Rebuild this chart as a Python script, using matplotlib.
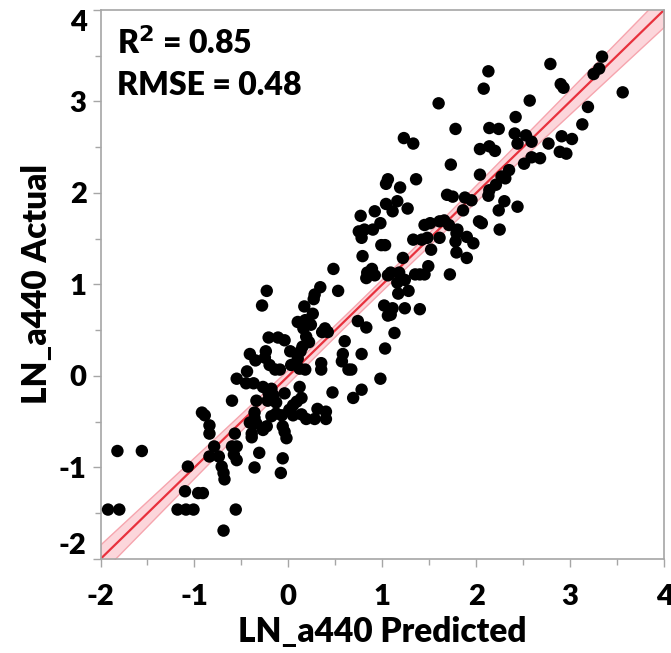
import numpy as np
import matplotlib
matplotlib.use('Agg')
import matplotlib.pyplot as plt
from matplotlib.ticker import MultipleLocator

plt.rcParams['font.family'] = ['Lato', 'DejaVu Sans']
plt.rcParams['font.weight'] = 'heavy'
plt.rcParams['axes.unicode_minus'] = False

# predicted / actual values
predicted = [
    1.60, 1.78, 1.23, 1.33, 1.73, 1.06, 1.04, 1.19, 1.36, 1.69, 1.75, 1.88, 1.16,
    2.79, 2.13, 3.34, 3.31, 3.25, 2.08, 2.90, 2.93, 3.56, 2.57, 3.19, 2.42, 2.14,
    2.24, 3.13, 2.41, 2.53, 2.91, 3.02, 2.44, 2.59, 2.77, 2.04, 2.14, 2.20, 2.89,
    2.96, 2.59, 2.68, 2.51, 2.35, 2.04, 2.27, 2.31, 2.21, 2.14, 2.13, 2.30, 1.95,
    2.24, 2.44, 2.03, 2.06, 2.25,
    1.04, 0.92, 1.11, 1.27, 0.77, 0.98, 0.75, 0.81, 0.78, 0.90, 0.99, 1.03, 0.79,
    0.48, 0.84, 0.89, 0.92, 0.83, 1.06, 1.09, 1.18, 1.22, 1.33, 1.42, 1.48, 1.45,
    1.51, 1.61, 1.66, 1.71, 1.61, 1.52, 1.80, 1.79, 1.78, 1.90, 1.97, 1.79, 1.90,
    1.49, 1.35, 1.40, 1.45, 1.72, 1.16, 1.24, 1.17, 1.28, 1.02, 1.11, 1.09, 1.06,
    1.24, 1.40, 1.13, 1.03, 0.83, 0.74, 0.78, 0.60, 0.58, 0.57, 0.64, 0.67, 0.53,
    0.34, 0.28, 0.27, 0.17, 0.26, 0.10, 0.18, 0.24, 0.16, 0.39, 0.36, 0.42, 0.19,
    0.22, 0.15, 0.13, 0.02, 0.10, 0.03, 0.12, 0.18, 0.35, 0.35, -0.04,
    -0.23, -0.28, -0.21, -0.11, -0.41, -0.24, -0.35, -0.25, -0.20, -0.14, -0.09,
    -0.44, -0.55, -0.45, -0.37, -0.27, -0.18, -0.16, -0.21, -0.04, -0.60, -0.34,
    -0.22, -0.13, -0.92, -0.89, -0.36, -0.36, -0.41, -0.34, -0.18, -0.13, -0.07,
    -0.84, -0.84, -0.57, -0.39, -0.39, -0.27, -0.23, -0.06, -0.04, -0.02, -1.82,
    -1.56, -0.79, -0.84, -0.74, -0.60, -0.55, -0.58, -0.55, -0.31, -0.06, -1.07,
    -0.71, -0.69, -0.68, -0.36, -0.08, -1.10, -0.96, -0.91, -1.92, -1.80, -1.18,
    -1.09, -1.01, -0.56, -0.69,
    0.98, 0.47, 0.78, 0.69, 0.12, 0.14, 0.09, 0.05, 0.01, 0.05, 0.14, 0.19, 0.28,
    0.31, 0.40, 0.40, 1.86,
]
actual = [
    2.98, 2.70, 2.60, 2.54, 2.31, 2.15, 2.10, 2.06, 2.15, 1.98, 1.96, 1.95, 1.91,
    3.41, 3.33, 3.49, 3.36, 3.30, 3.14, 3.19, 3.15, 3.10, 3.01, 2.94, 2.83, 2.71,
    2.70, 2.75, 2.65, 2.63, 2.62, 2.59, 2.54, 2.56, 2.54, 2.48, 2.51, 2.46, 2.45,
    2.43, 2.39, 2.38, 2.32, 2.25, 2.20, 2.18, 2.16, 2.09, 2.03, 1.97, 1.91, 1.92,
    1.81, 1.85, 1.69, 1.67, 1.60,
    1.88, 1.80, 1.80, 1.83, 1.75, 1.67, 1.58, 1.60, 1.51, 1.60, 1.43, 1.43, 1.31,
    1.17, 1.13, 1.17, 1.10, 1.07, 1.10, 1.13, 1.13, 1.29, 1.49, 1.49, 1.51, 1.65,
    1.67, 1.69, 1.70, 1.65, 1.51, 1.38, 1.60, 1.56, 1.47, 1.52, 1.45, 1.35, 1.29,
    1.20, 1.11, 1.11, 1.11, 1.11, 1.02, 1.05, 0.90, 0.93, 0.77, 0.74, 0.67, 0.66,
    0.74, 0.73, 0.47, 0.30, 0.53, 0.60, 0.24, 0.38, 0.24, 0.16, 0.07, 0.07, 0.93,
    0.97, 0.89, 0.84, 0.76, 0.68, 0.59, 0.61, 0.56, 0.52, 0.52, 0.48, 0.48, 0.43,
    0.37, 0.32, 0.27, 0.27, 0.19, 0.12, 0.08, 0.07, 0.14, 0.07, 0.39,
    0.93, 0.77, 0.42, 0.42, 0.24, 0.27, 0.17, 0.20, 0.12, 0.07, 0.07,
    0.05, -0.03, -0.08, -0.08, -0.12, -0.14, -0.21, -0.19, -0.19, -0.27, -0.27,
    -0.27, -0.29, -0.40, -0.43, -0.40, -0.46, -0.51, -0.52, -0.44, -0.41, -0.43,
    -0.54, -0.63, -0.63, -0.63, -0.67, -0.59, -0.55, -0.55, -0.61, -0.68, -0.82,
    -0.82, -0.77, -0.88, -0.88, -0.77, -0.77, -0.86, -0.92, -0.84, -0.90, -0.99,
    -0.99, -1.06, -1.13, -1.00, -1.06, -1.26, -1.28, -1.28, -1.46, -1.46, -1.46,
    -1.46, -1.46, -1.46, -1.69,
    -0.03, -0.18, -0.15, -0.24, -0.12, -0.24, -0.28, -0.32, -0.37, -0.43, -0.42,
    -0.47, -0.47, -0.36, -0.39, -0.47, 1.81,
]
r2_text = 'R$^\\mathbf{2}$ = 0.85'
rmse = 0.48
rmse_text = 'RMSE = 0.48'

x = np.array(predicted)
y = np.array(actual)

fig = plt.figure(figsize=(6.71, 6.53), dpi=100)
ax = fig.add_axes([0.1498, 0.144, 0.8398, 0.8407])

# fit line (actual = predicted) with confidence band
n = len(x)
xs = np.linspace(-2, 4, 200)
sxx = np.sum((x - x.mean()) ** 2)
half = 1.97 * rmse * np.sqrt(1 / n + (xs - x.mean()) ** 2 / sxx)
ax.fill_between(xs, xs - half, xs + half, color='#fcd6db', edgecolor='#f6a5ae',
                linewidth=1, zorder=1)
ax.plot(xs, xs, color='#e8313d', linewidth=1.6, zorder=2)

ax.scatter(x, y, s=80, color='black', edgecolors='none', zorder=3)

ax.set_xlim(-2, 4)
ax.set_ylim(-2, 4)
ax.xaxis.set_major_locator(MultipleLocator(1))
ax.yaxis.set_major_locator(MultipleLocator(1))
ax.xaxis.set_minor_locator(MultipleLocator(0.5))
ax.yaxis.set_minor_locator(MultipleLocator(0.5))

for s in ax.spines.values():
    s.set_color('#a6a6a6')
    s.set_linewidth(1.2)

ax.tick_params(which='major', direction='out', length=6, width=1,
               color='#a6a6a6', labelsize=21, pad=4)
ax.tick_params(which='minor', direction='out', length=4, width=1,
               color='#a6a6a6')
ax.tick_params(axis='x', which='major', pad=12)

ax.set_xlabel('LN_a440 Predicted', fontsize=24, fontweight='heavy', labelpad=4)
ax.set_ylabel('LN_a440 Actual', fontsize=24, fontweight='heavy', labelpad=4)

ax.text(0.03, 0.97, r2_text, transform=ax.transAxes, fontsize=23,
        fontweight='heavy', va='top', ha='left')
ax.text(0.03, 0.888, rmse_text, transform=ax.transAxes, fontsize=23,
        fontweight='heavy', va='top', ha='left')

# keep the end labels of the y axis inside the frame
fig.canvas.draw()
for lab in ax.get_yticklabels():
    if lab.get_text() == '4':
        lab.set_va('top')
    elif lab.get_text() == '-2':
        lab.set_va('bottom')

fig.savefig('out.png', dpi=100)
